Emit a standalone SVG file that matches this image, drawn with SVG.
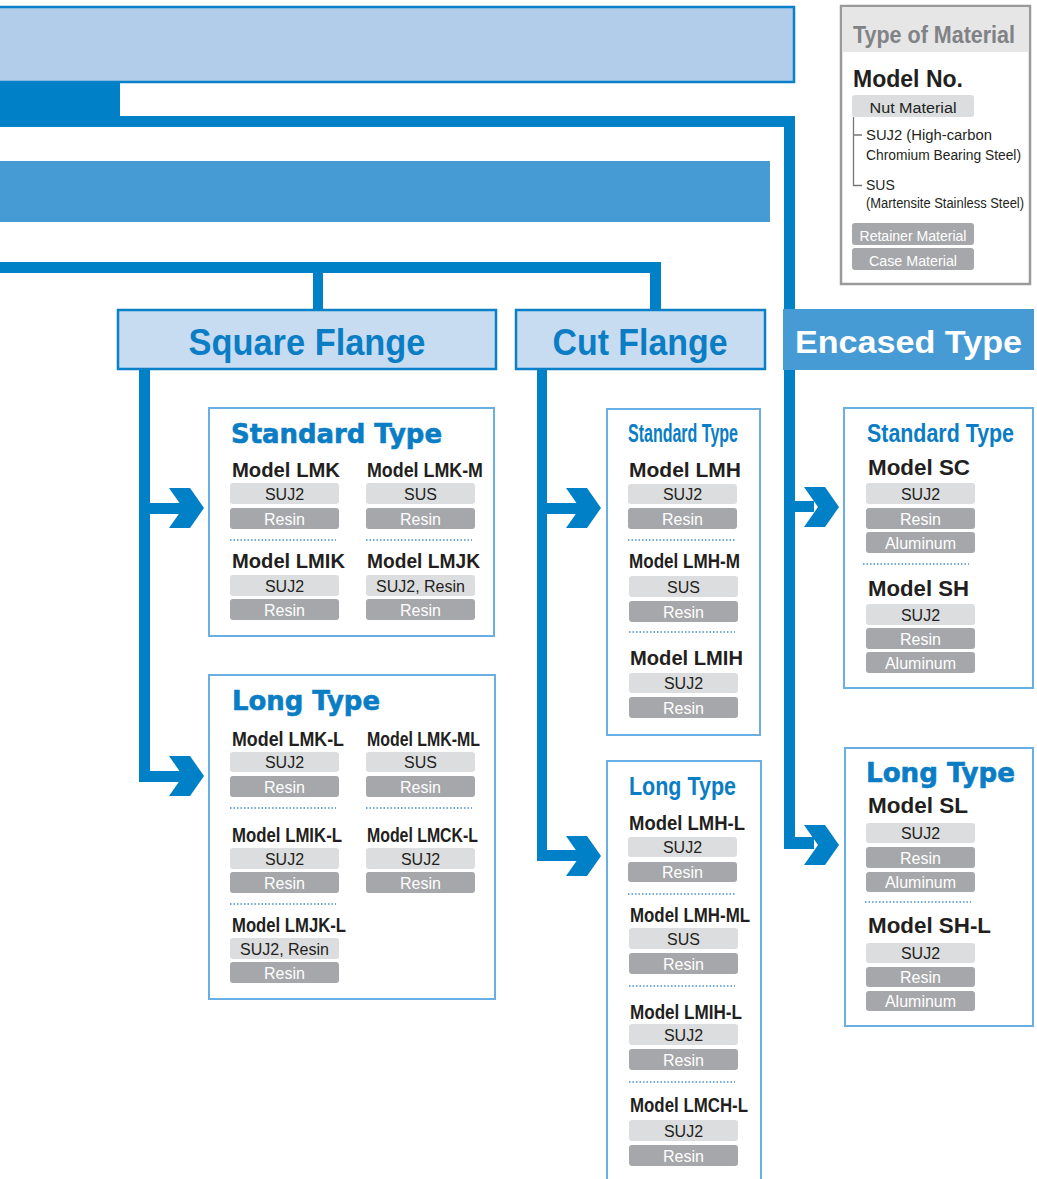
<svg xmlns="http://www.w3.org/2000/svg" width="1037" height="1179" viewBox="0 0 1037 1179">
<style>
.bar{fill:#0080c6}
.hdr{fill:#c7dcf1;stroke:#0a80c8;stroke-width:2.5}
.hdrtxt{font-family:"Liberation Sans",Arial,sans-serif;font-weight:bold;font-size:36px;fill:#0a7dc5;text-anchor:middle}
.box{fill:#fff;stroke:#6aafe3;stroke-width:2}
.heavy{font-family:"DejaVu Sans",sans-serif;font-weight:bold;font-size:26px;fill:#0a7dc5;stroke:#0a7dc5;stroke-width:0.6}
.cond{font-family:"Liberation Sans",Arial,sans-serif;font-weight:bold;font-size:25px;fill:#0a7dc5}
.model{font-family:"Liberation Sans",Arial,sans-serif;font-weight:bold;font-size:20px;fill:#231f20}
.model22{font-family:"Liberation Sans",Arial,sans-serif;font-weight:bold;font-size:22px;fill:#231f20}
.pl{fill:#dcdddf}
.pd{fill:#a6a7aa}
.tl{font-family:"Liberation Sans",Arial,sans-serif;font-size:16px;fill:#231f20;text-anchor:middle}
.td{font-family:"Liberation Sans",Arial,sans-serif;font-size:16px;fill:#fff;text-anchor:middle}
.dot{stroke:#4192d2;stroke-width:1.5;stroke-dasharray:1.5 2;fill:none}
.lg{font-family:"Liberation Sans",Arial,sans-serif;font-size:14px;fill:#231f20}
</style>
<defs>
  <path id="chev" d="M-35,-20 H-14 L0,0 L-14,20 H-35 L-21,0 Z"/>
</defs>

<!-- top bands -->
<g id="band-top">
  <rect x="-5" y="7" width="799" height="75" fill="#b2cde9" stroke="#0a80c8" stroke-width="2.5"/>
  <rect class="bar" x="0" y="83" width="120" height="44"/>
</g>
<g id="band-mid">
  <rect x="0" y="161" width="770" height="61" fill="#469bd4"/>
</g>

<!-- connectors -->
<g id="connectors" class="bar">
  <!-- top trunk to Encased Type -->
  <rect x="120" y="116" width="675" height="11"/>
  <rect x="784" y="116" width="11" height="733"/>
  <rect x="784" y="501" width="30" height="11"/>
  <use href="#chev" x="839" y="507"/>
  <rect x="784" y="837" width="30" height="12"/>
  <use href="#chev" x="839" y="845"/>
  <!-- branch to flange types -->
  <rect x="0" y="262" width="661" height="11"/>
  <rect x="313" y="262" width="10" height="48"/>
  <rect x="650" y="262" width="11" height="48"/>
  <!-- Square Flange -->
  <rect x="139" y="369" width="11" height="413"/>
  <rect x="139" y="503" width="45" height="11"/>
  <use href="#chev" x="204" y="508"/>
  <rect x="139" y="771" width="45" height="11"/>
  <use href="#chev" x="204" y="776"/>
  <!-- Cut Flange -->
  <rect x="537" y="369" width="10" height="492"/>
  <rect x="537" y="503" width="45" height="11"/>
  <use href="#chev" x="601" y="508"/>
  <rect x="537" y="850" width="45" height="11"/>
  <use href="#chev" x="601" y="856"/>
</g>

<!-- category headers -->
<g id="square-flange">
  <rect class="hdr" x="118" y="310" width="378" height="59"/>
  <text class="hdrtxt" x="307" y="355" textLength="237" lengthAdjust="spacingAndGlyphs">Square Flange</text>
</g>
<g id="cut-flange">
  <rect class="hdr" x="516" y="310" width="249" height="59"/>
  <text class="hdrtxt" x="640" y="355" textLength="175" lengthAdjust="spacingAndGlyphs">Cut Flange</text>
</g>
<g id="encased-type">
  <rect x="783" y="309" width="251" height="61" fill="#469bd4"/>
  <text x="795" y="353" font-family="Liberation Sans, Arial, sans-serif" font-weight="bold" font-size="32" fill="#fff" textLength="227" lengthAdjust="spacingAndGlyphs">Encased Type</text>
</g>

<!-- Square Flange / Standard Type -->
<g id="sq-standard">
  <rect class="box" x="209" y="408" width="285" height="228"/>
  <text class="heavy" x="231" y="443" textLength="211" lengthAdjust="spacingAndGlyphs">Standard Type</text>
  <text class="model" x="232" y="477" textLength="108" lengthAdjust="spacingAndGlyphs">Model LMK</text>
  <rect class="pl" x="230" y="483" width="109" height="21" rx="3"/><text class="tl" x="284.5" y="499.5">SUJ2</text>
  <rect class="pd" x="230" y="508" width="109" height="21" rx="3"/><text class="td" x="284.5" y="524.5">Resin</text>
  <text class="model" x="367" y="477" textLength="116" lengthAdjust="spacingAndGlyphs">Model LMK-M</text>
  <rect class="pl" x="366" y="483" width="109" height="21" rx="3"/><text class="tl" x="420.5" y="499.5">SUS</text>
  <rect class="pd" x="366" y="508" width="109" height="21" rx="3"/><text class="td" x="420.5" y="524.5">Resin</text>
  <line class="dot" x1="230" y1="540" x2="336" y2="540"/>
  <line class="dot" x1="366" y1="540" x2="472" y2="540"/>
  <text class="model" x="232" y="568" textLength="113" lengthAdjust="spacingAndGlyphs">Model LMIK</text>
  <rect class="pl" x="230" y="575" width="109" height="21" rx="3"/><text class="tl" x="284.5" y="591.5">SUJ2</text>
  <rect class="pd" x="230" y="599" width="109" height="21" rx="3"/><text class="td" x="284.5" y="615.5">Resin</text>
  <text class="model" x="367" y="568" textLength="113" lengthAdjust="spacingAndGlyphs">Model LMJK</text>
  <rect class="pl" x="366" y="575" width="109" height="21" rx="3"/><text class="tl" x="420.5" y="591.5">SUJ2, Resin</text>
  <rect class="pd" x="366" y="599" width="109" height="21" rx="3"/><text class="td" x="420.5" y="615.5">Resin</text>
</g>

<!-- Square Flange / Long Type -->
<g id="sq-long">
  <rect class="box" x="209" y="675" width="286" height="324"/>
  <text class="heavy" x="232" y="710" textLength="148" lengthAdjust="spacingAndGlyphs">Long Type</text>
  <text class="model" x="232" y="746" textLength="112" lengthAdjust="spacingAndGlyphs">Model LMK-L</text>
  <rect class="pl" x="230" y="752" width="109" height="20" rx="3"/><text class="tl" x="284.5" y="767.5">SUJ2</text>
  <rect class="pd" x="230" y="776" width="109" height="21" rx="3"/><text class="td" x="284.5" y="792.5">Resin</text>
  <text class="model" x="367" y="746" textLength="113" lengthAdjust="spacingAndGlyphs">Model LMK-ML</text>
  <rect class="pl" x="366" y="752" width="109" height="20" rx="3"/><text class="tl" x="420.5" y="767.5">SUS</text>
  <rect class="pd" x="366" y="776" width="109" height="21" rx="3"/><text class="td" x="420.5" y="792.5">Resin</text>
  <line class="dot" x1="230" y1="808" x2="336" y2="808"/>
  <line class="dot" x1="366" y1="808" x2="472" y2="808"/>
  <text class="model" x="232" y="842" textLength="110" lengthAdjust="spacingAndGlyphs">Model LMIK-L</text>
  <rect class="pl" x="230" y="848" width="109" height="21" rx="3"/><text class="tl" x="284.5" y="864.5">SUJ2</text>
  <rect class="pd" x="230" y="872" width="109" height="21" rx="3"/><text class="td" x="284.5" y="888.5">Resin</text>
  <text class="model" x="367" y="842" textLength="111" lengthAdjust="spacingAndGlyphs">Model LMCK-L</text>
  <rect class="pl" x="366" y="848" width="109" height="21" rx="3"/><text class="tl" x="420.5" y="864.5">SUJ2</text>
  <rect class="pd" x="366" y="872" width="109" height="21" rx="3"/><text class="td" x="420.5" y="888.5">Resin</text>
  <line class="dot" x1="230" y1="904" x2="336" y2="904"/>
  <text class="model" x="232" y="932" textLength="114" lengthAdjust="spacingAndGlyphs">Model LMJK-L</text>
  <rect class="pl" x="230" y="938" width="109" height="21" rx="3"/><text class="tl" x="284.5" y="954.5">SUJ2, Resin</text>
  <rect class="pd" x="230" y="962" width="109" height="21" rx="3"/><text class="td" x="284.5" y="978.5">Resin</text>
</g>

<!-- Cut Flange / Standard Type -->
<g id="cut-standard">
  <rect class="box" x="607" y="409" width="153" height="326"/>
  <text class="cond" x="628" y="442" textLength="110" lengthAdjust="spacingAndGlyphs">Standard Type</text>
  <text class="model" x="629" y="477" textLength="112" lengthAdjust="spacingAndGlyphs">Model LMH</text>
  <rect class="pl" x="628" y="484" width="109" height="20" rx="3"/><text class="tl" x="682.5" y="499.5">SUJ2</text>
  <rect class="pd" x="628" y="508" width="109" height="21" rx="3"/><text class="td" x="682.5" y="524.5">Resin</text>
  <line class="dot" x1="628" y1="540" x2="735" y2="540"/>
  <text class="model" x="629" y="568" textLength="111" lengthAdjust="spacingAndGlyphs">Model LMH-M</text>
  <rect class="pl" x="629" y="576" width="109" height="21" rx="3"/><text class="tl" x="683.5" y="592.5">SUS</text>
  <rect class="pd" x="629" y="601" width="109" height="21" rx="3"/><text class="td" x="683.5" y="617.5">Resin</text>
  <line class="dot" x1="629" y1="632" x2="735" y2="632"/>
  <text class="model" x="630" y="665" textLength="113" lengthAdjust="spacingAndGlyphs">Model LMIH</text>
  <rect class="pl" x="629" y="673" width="109" height="20" rx="3"/><text class="tl" x="683.5" y="688.5">SUJ2</text>
  <rect class="pd" x="629" y="697" width="109" height="21" rx="3"/><text class="td" x="683.5" y="713.5">Resin</text>
</g>

<!-- Cut Flange / Long Type -->
<g id="cut-long">
  <rect class="box" x="607" y="761" width="154" height="440"/>
  <text class="cond" x="629" y="795" font-size="24" textLength="107" lengthAdjust="spacingAndGlyphs">Long Type</text>
  <text class="model" x="629" y="830" textLength="116" lengthAdjust="spacingAndGlyphs">Model LMH-L</text>
  <rect class="pl" x="628" y="837" width="109" height="20" rx="3"/><text class="tl" x="682.5" y="852.5">SUJ2</text>
  <rect class="pd" x="628" y="862" width="109" height="20" rx="3"/><text class="td" x="682.5" y="877.5">Resin</text>
  <line class="dot" x1="628" y1="894" x2="735" y2="894"/>
  <text class="model" x="630" y="922" textLength="120" lengthAdjust="spacingAndGlyphs">Model LMH-ML</text>
  <rect class="pl" x="629" y="928" width="109" height="21" rx="3"/><text class="tl" x="683.5" y="944.5">SUS</text>
  <rect class="pd" x="629" y="953" width="109" height="21" rx="3"/><text class="td" x="683.5" y="969.5">Resin</text>
  <line class="dot" x1="629" y1="986" x2="735" y2="986"/>
  <text class="model" x="630" y="1019" textLength="112" lengthAdjust="spacingAndGlyphs">Model LMIH-L</text>
  <rect class="pl" x="629" y="1024" width="109" height="21" rx="3"/><text class="tl" x="683.5" y="1040.5">SUJ2</text>
  <rect class="pd" x="629" y="1049" width="109" height="21" rx="3"/><text class="td" x="683.5" y="1065.5">Resin</text>
  <line class="dot" x1="629" y1="1082" x2="735" y2="1082"/>
  <text class="model" x="630" y="1112" textLength="118" lengthAdjust="spacingAndGlyphs">Model LMCH-L</text>
  <rect class="pl" x="629" y="1120" width="109" height="21" rx="3"/><text class="tl" x="683.5" y="1136.5">SUJ2</text>
  <rect class="pd" x="629" y="1145" width="109" height="21" rx="3"/><text class="td" x="683.5" y="1161.5">Resin</text>
</g>

<!-- Encased Type / Standard Type -->
<g id="enc-standard">
  <rect class="box" x="844" y="408" width="189" height="280"/>
  <text class="cond" x="867" y="442" textLength="147" lengthAdjust="spacingAndGlyphs">Standard Type</text>
  <text class="model22" x="868" y="475" textLength="102" lengthAdjust="spacingAndGlyphs">Model SC</text>
  <rect class="pl" x="866" y="483" width="109" height="21" rx="3"/><text class="tl" x="920.5" y="499.5">SUJ2</text>
  <rect class="pd" x="866" y="508" width="109" height="21" rx="3"/><text class="td" x="920.5" y="524.5">Resin</text>
  <rect class="pd" x="866" y="532" width="109" height="21" rx="3"/><text class="td" x="920.5" y="548.5">Aluminum</text>
  <line class="dot" x1="863" y1="564" x2="969" y2="564"/>
  <text class="model22" x="868" y="596" textLength="101" lengthAdjust="spacingAndGlyphs">Model SH</text>
  <rect class="pl" x="866" y="604" width="109" height="21" rx="3"/><text class="tl" x="920.5" y="620.5">SUJ2</text>
  <rect class="pd" x="866" y="628" width="109" height="21" rx="3"/><text class="td" x="920.5" y="644.5">Resin</text>
  <rect class="pd" x="866" y="652" width="109" height="21" rx="3"/><text class="td" x="920.5" y="668.5">Aluminum</text>
</g>

<!-- Encased Type / Long Type -->
<g id="enc-long">
  <rect class="box" x="845" y="748" width="188" height="278"/>
  <text class="heavy" x="866" y="782" textLength="149" lengthAdjust="spacingAndGlyphs">Long Type</text>
  <text class="model22" x="868" y="813" textLength="100" lengthAdjust="spacingAndGlyphs">Model SL</text>
  <rect class="pl" x="866" y="823" width="109" height="20" rx="3"/><text class="tl" x="920.5" y="838.5">SUJ2</text>
  <rect class="pd" x="866" y="847" width="109" height="21" rx="3"/><text class="td" x="920.5" y="863.5">Resin</text>
  <rect class="pd" x="866" y="872" width="109" height="20" rx="3"/><text class="td" x="920.5" y="887.5">Aluminum</text>
  <line class="dot" x1="865" y1="902" x2="971" y2="902"/>
  <text class="model22" x="868" y="933" textLength="123" lengthAdjust="spacingAndGlyphs">Model SH-L</text>
  <rect class="pl" x="866" y="943" width="109" height="20" rx="3"/><text class="tl" x="920.5" y="958.5">SUJ2</text>
  <rect class="pd" x="866" y="967" width="109" height="20" rx="3"/><text class="td" x="920.5" y="982.5">Resin</text>
  <rect class="pd" x="866" y="991" width="109" height="20" rx="3"/><text class="td" x="920.5" y="1006.5">Aluminum</text>
</g>

<!-- material key -->
<g id="legend">
  <rect x="841" y="6" width="189" height="278" fill="#fff" stroke="#9a9a9a" stroke-width="2.5"/>
  <rect x="842.5" y="7.5" width="186" height="44.5" fill="#e6e6e7"/>
  <text x="853" y="43" font-family="Liberation Sans, Arial, sans-serif" font-weight="bold" font-size="24" fill="#808285" textLength="162" lengthAdjust="spacingAndGlyphs">Type of Material</text>
  <text x="853" y="87" font-family="Liberation Sans, Arial, sans-serif" font-weight="bold" font-size="23" fill="#231f20" textLength="110" lengthAdjust="spacingAndGlyphs">Model No.</text>
  <rect class="pl" x="852" y="95" width="122" height="22" rx="3"/>
  <text class="lg" x="913" y="112.5" font-size="15" text-anchor="middle" textLength="87" lengthAdjust="spacingAndGlyphs">Nut Material</text>
  <path d="M853.5,117 V185.5 H862 M853.5,135 H862" fill="none" stroke="#777" stroke-width="1.3"/>
  <text class="lg" x="866" y="140" textLength="126" lengthAdjust="spacingAndGlyphs">SUJ2 (High-carbon</text>
  <text class="lg" x="866" y="160" textLength="155" lengthAdjust="spacingAndGlyphs">Chromium Bearing Steel)</text>
  <text class="lg" x="866" y="190">SUS</text>
  <text class="lg" x="866" y="208" textLength="158" lengthAdjust="spacingAndGlyphs">(Martensite Stainless Steel)</text>
  <rect class="pd" x="852" y="223" width="122" height="22" rx="3"/>
  <text x="913" y="240.5" font-family="Liberation Sans, Arial, sans-serif" font-size="14" fill="#fff" text-anchor="middle" textLength="107" lengthAdjust="spacingAndGlyphs">Retainer Material</text>
  <rect class="pd" x="852" y="248" width="122" height="22" rx="3"/>
  <text x="913" y="265.5" font-family="Liberation Sans, Arial, sans-serif" font-size="14" fill="#fff" text-anchor="middle" textLength="88" lengthAdjust="spacingAndGlyphs">Case Material</text>
</g>
</svg>
